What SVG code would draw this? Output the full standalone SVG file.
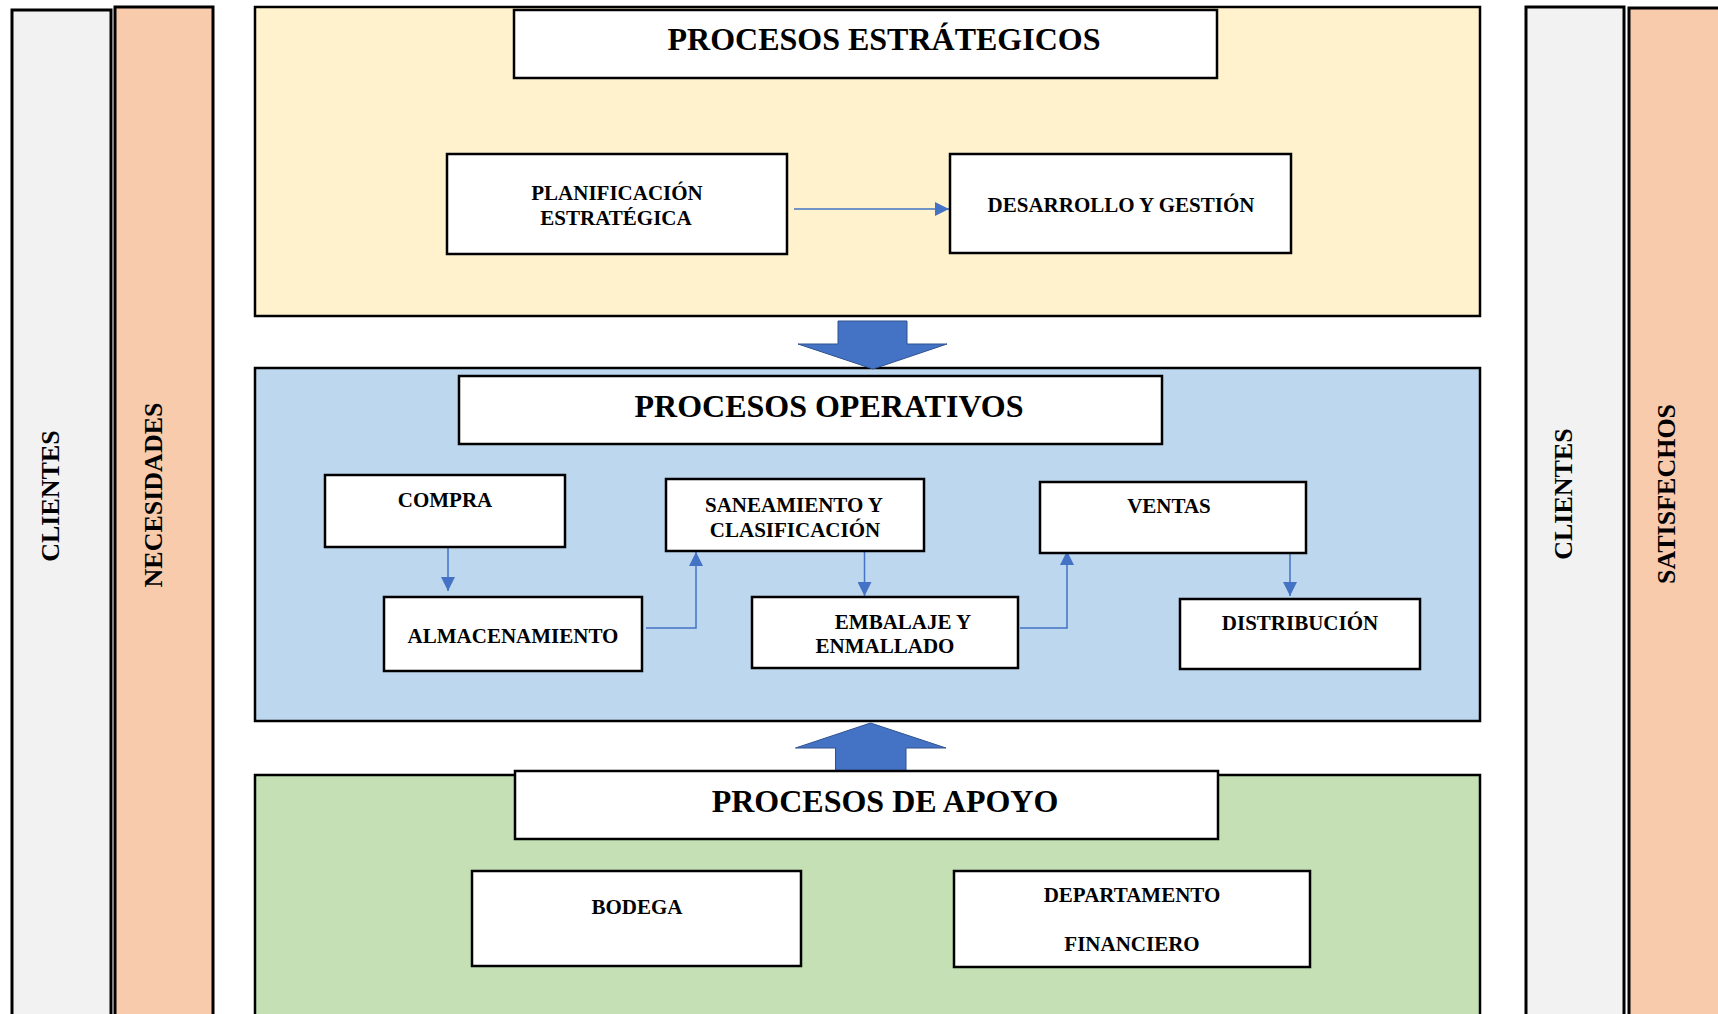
<svg xmlns="http://www.w3.org/2000/svg" width="1718" height="1014" viewBox="0 0 1718 1014">
  <defs>
    <style>
      .lbl { font-family: "Liberation Serif", "Times New Roman", serif; font-weight: bold; fill: #000; text-anchor: middle; }
      .title { font-size: 32px; }
      .item { font-size: 21px; }
      .side { font-size: 26px; }
      .bar { stroke: #000; stroke-width: 3; }
      .section { stroke: #000; stroke-width: 2.5; }
      .box { fill: #fff; stroke: #000; stroke-width: 2.5; }
      .link { fill: none; stroke: #4472C4; stroke-width: 1.5; marker-end: url(#tip); }
      .block { fill: #4472C4; stroke: #2F528F; stroke-width: 1; }
    </style>
    <marker id="tip" viewBox="0 0 10 10" refX="10" refY="5" markerWidth="15" markerHeight="14" markerUnits="userSpaceOnUse" orient="auto">
      <path d="M0,0 L10,5 L0,10 z" fill="#4472C4"/>
    </marker>
  </defs>

  <rect width="1718" height="1014" fill="#fff"/>

  <!-- side bands -->
  <g id="clientes-in">
    <rect class="bar" x="12" y="10" width="99" height="1020" fill="#F2F2F2"/>
    <text class="lbl side" transform="translate(59,496) rotate(-90)">CLIENTES</text>
  </g>
  <g id="necesidades">
    <rect class="bar" x="115" y="7" width="98" height="1020" fill="#F8CBAD"/>
    <text class="lbl side" transform="translate(162,495) rotate(-90)">NECESIDADES</text>
  </g>
  <g id="clientes-out">
    <rect class="bar" x="1526" y="7" width="98" height="1020" fill="#F2F2F2"/>
    <text class="lbl side" transform="translate(1572,494) rotate(-90)">CLIENTES</text>
  </g>
  <g id="satisfechos">
    <rect class="bar" x="1629" y="8" width="100" height="1020" fill="#F8CBAD"/>
    <text class="lbl side" transform="translate(1675,494) rotate(-90)">SATISFECHOS</text>
  </g>

  <!-- process sections -->
  <g id="sec-estrategicos">
    <rect class="section" x="255" y="7" width="1225" height="309" fill="#FFF2CC"/>
  </g>
  <g id="sec-operativos">
    <rect class="section" x="255" y="368" width="1225" height="353" fill="#BDD7EE"/>
  </g>
  <g id="sec-apoyo">
    <rect class="section" x="255" y="775" width="1225" height="260" fill="#C5E0B4"/>
  </g>

  <!-- connectors -->
  <g id="connectors">
    <polygon class="block" points="838,321 907,321 907,344 947,344 873,369 798,344 838,344"/>
    <polygon class="block" points="870.5,723 946,748 906,748 906,775 835.5,775 835.5,748 795.5,748"/>
    <path class="link" d="M794,209 H949"/>
    <path class="link" d="M448,547 V591"/>
    <path class="link" d="M646,628 H696 V552"/>
    <path class="link" d="M864.5,551 V596"/>
    <path class="link" d="M1020,628 H1067 V551"/>
    <path class="link" d="M1290,549 V596"/>
  </g>

  <!-- section titles -->
  <g id="title-estrategicos">
    <rect class="box" x="514" y="10" width="703" height="68"/>
    <text class="lbl title" x="884" y="50">PROCESOS ESTRÁTEGICOS</text>
  </g>
  <g id="title-operativos">
    <rect class="box" x="459" y="376" width="703" height="68"/>
    <text class="lbl title" x="829" y="417">PROCESOS OPERATIVOS</text>
  </g>
  <g id="title-apoyo">
    <rect class="box" x="515" y="771" width="703" height="68"/>
    <text class="lbl title" x="885" y="812">PROCESOS DE APOYO</text>
  </g>

  <!-- strategic processes -->
  <g id="planificacion">
    <rect class="box" x="447" y="154" width="340" height="100"/>
    <text class="lbl item" x="617" y="200">PLANIFICACIÓN</text>
    <text class="lbl item" x="616" y="225">ESTRATÉGICA</text>
  </g>
  <g id="desarrollo">
    <rect class="box" x="950" y="154" width="341" height="99"/>
    <text class="lbl item" x="1121" y="212">DESARROLLO Y GESTIÓN</text>
  </g>

  <!-- operational processes -->
  <g id="compra">
    <rect class="box" x="325" y="475" width="240" height="72"/>
    <text class="lbl item" x="445" y="507">COMPRA</text>
  </g>
  <g id="almacenamiento">
    <rect class="box" x="384" y="597" width="258" height="74"/>
    <text class="lbl item" x="513" y="643">ALMACENAMIENTO</text>
  </g>
  <g id="saneamiento">
    <rect class="box" x="666" y="479" width="258" height="72"/>
    <text class="lbl item" x="794" y="512">SANEAMIENTO Y</text>
    <text class="lbl item" x="795" y="537">CLASIFICACIÓN</text>
  </g>
  <g id="embalaje">
    <rect class="box" x="752" y="597" width="266" height="71"/>
    <text class="lbl item" x="903" y="629">EMBALAJE Y</text>
    <text class="lbl item" x="885" y="653">ENMALLADO</text>
  </g>
  <g id="ventas">
    <rect class="box" x="1040" y="482" width="266" height="71"/>
    <text class="lbl item" x="1169" y="513">VENTAS</text>
  </g>
  <g id="distribucion">
    <rect class="box" x="1180" y="599" width="240" height="70"/>
    <text class="lbl item" x="1300" y="630">DISTRIBUCIÓN</text>
  </g>

  <!-- support processes -->
  <g id="bodega">
    <rect class="box" x="472" y="871" width="329" height="95"/>
    <text class="lbl item" x="637" y="914">BODEGA</text>
  </g>
  <g id="financiero">
    <rect class="box" x="954" y="871" width="356" height="96"/>
    <text class="lbl item" x="1132" y="902">DEPARTAMENTO</text>
    <text class="lbl item" x="1132" y="951">FINANCIERO</text>
  </g>
</svg>
